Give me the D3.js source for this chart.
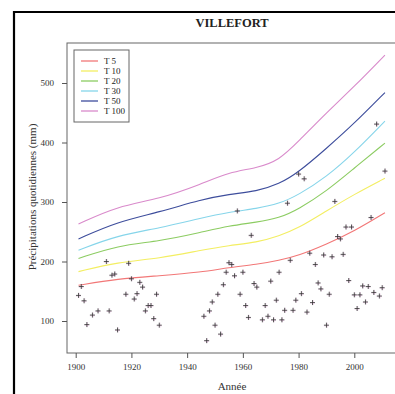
<!DOCTYPE html>
<html><head><meta charset="utf-8">
<script src="https://cdn.jsdelivr.net/npm/d3@7"></script>
<style>body{margin:0;background:#fff}svg{display:block}text{font-family:"Liberation Serif","Times New Roman",serif}</style>
</head><body><svg id="c" width="395" height="394"></svg>
<script>
const title = "VILLEFORT";
const xLabel = "Année";
const yLabel = "Précipitations quotidiennes (mm)";
const xTicks = [1900, 1920, 1940, 1960, 1980, 2000];
const yTicks = [100, 200, 300, 400, 500];
const curveYears = [1901, 1915, 1930, 1945, 1955, 1965, 1973, 1980, 1990, 2000, 2011];
const seriesNames = ["T 5", "T 10", "T 20", "T 30", "T 50", "T 100"];
const t5   = [160, 171, 176, 182, 190, 195, 202, 210, 229, 251, 282];
const t10  = [183, 199, 205, 219, 227, 232, 243, 256, 285, 313, 340];
const t20  = [205, 227, 234, 249, 260, 266, 273, 288, 318, 357, 399];
const t30  = [219, 244, 256, 273, 283, 289, 297, 312, 342, 383, 436];
const t50  = [238, 267, 283, 304, 313, 318, 330, 350, 390, 432, 484];
const t100 = [263, 293, 305, 330, 350, 357, 370, 402, 450, 494, 547];
const seriesColors = ["#f27777", "#f3ee62", "#8ccc62", "#86d5ea", "#3d4d9c", "#d98acb"];
const obsYears = [1901,1902,1903,1904,1906,1908,1911,1912,1913,1914,1915,1918,1919,1920,1921,1922,1923,1924,1925,1926,1927,1928,1929,1930,
  1946,1947,1948,1949,1950,1951,1952,1953,1954,1955,1956,1957,1958,1959,1960,1961,1962,1963,1964,1965,1967,1968,1969,1970,1971,1972,1973,1974,1975,1976,1977,1978,1979,1980,1981,1982,1983,1984,1985,1986,1987,1988,1989,1990,1991,1992,1993,1994,1995,1996,1997,1998,1999,2000,2001,2002,2003,2004,2005,2006,2007,2008,2009,2010,2011];
const obsValues = [143,158,134,94,110,117,200,117,177,179,85,145,197,171,137,146,165,157,117,126,126,104,145,93,
  108,67,117,132,93,145,78,161,182,198,195,176,285,145,182,126,106,244,163,157,102,126,108,167,102,135,182,102,118,298,202,118,135,347,146,339,115,214,131,195,164,154,211,93,145,208,301,242,238,212,258,168,258,144,121,144,159,132,158,274,148,431,142,156,352];

const series = [t5, t10, t20, t30, t50, t100];
const svg = d3.select("#c");
const x = d3.scaleLinear().domain([1900, 2000]).range([75.7, 354.3]);
const y = d3.scaleLinear().domain([100, 500]).range([321, 83]);
const box = {l: 67, t: 43, r: 402, b: 353};

svg.append("path").attr("d", `M14,394 V12 H395`).attr("fill", "none").attr("stroke", "#000").attr("stroke-width", 2.2);

svg.append("text").attr("x", 232).attr("y", 27).attr("text-anchor", "middle")
  .attr("font-size", 12.5).attr("font-weight", "bold").attr("fill", "#222").text(title);

svg.append("clipPath").attr("id", "cl").append("rect")
  .attr("x", box.l).attr("y", box.t).attr("width", box.r - box.l).attr("height", box.b - box.t);
const g = svg.append("g").attr("clip-path", "url(#cl)");

const line = d3.line().x((d, i) => x(curveYears[i])).y(d => y(d)).curve(d3.curveBasis);
series.forEach((s, k) => {
  g.append("path").attr("d", line(s)).attr("fill", "none").attr("stroke", seriesColors[k]).attr("stroke-width", 1.1);
});

obsYears.forEach((yr, i) => {
  const cx = x(yr), cy = y(obsValues[i]);
  g.append("path").attr("d", `M${cx - 2.5},${cy + 0.6}h5M${cx + 0.6},${cy - 2.5}v5`)
    .attr("stroke", "#d4a0cc").attr("stroke-width", 0.8).attr("opacity", 0.6);
  g.append("path").attr("d", `M${cx - 2.5},${cy}h5M${cx},${cy - 2.5}v5`)
    .attr("stroke", "#333").attr("stroke-width", 0.8);
});

svg.append("rect").attr("x", box.l).attr("y", box.t).attr("width", box.r - box.l).attr("height", box.b - box.t)
  .attr("fill", "none").attr("stroke", "#666").attr("stroke-width", 1);

const xa = svg.append("g").attr("transform", `translate(0,${box.b})`)
  .call(d3.axisBottom(x).tickValues(xTicks).tickFormat(d3.format("d")).tickSize(5).tickPadding(6));
const ya = svg.append("g").attr("transform", `translate(${box.l},0)`)
  .call(d3.axisLeft(y).tickValues(yTicks).tickSize(5).tickPadding(8));
[xa, ya].forEach(a => {
  a.select(".domain").remove();
  a.selectAll("line").attr("stroke", "#555");
  a.selectAll("text").attr("font-size", 9).attr("fill", "#333").attr("font-family", "Liberation Serif, serif");
});

svg.append("text").attr("x", 232).attr("y", 390).attr("text-anchor", "middle")
  .attr("font-size", 11).attr("fill", "#333").text(xLabel);
svg.append("text").attr("transform", "translate(36,197) rotate(-90)").attr("text-anchor", "middle")
  .attr("font-size", 11).attr("fill", "#333").text(yLabel);

const lg = svg.append("g");
lg.append("rect").attr("x", 74).attr("y", 50).attr("width", 55).attr("height", 72)
  .attr("fill", "#fff").attr("stroke", "#666").attr("stroke-width", 1);
seriesNames.forEach((n, k) => {
  const yy = 61 + k * 10;
  lg.append("line").attr("x1", 81).attr("x2", 98).attr("y1", yy).attr("y2", yy)
    .attr("stroke", seriesColors[k]).attr("stroke-width", 1.3);
  lg.append("text").attr("x", 104).attr("y", yy + 3).attr("font-size", 9).attr("fill", "#222").text(n);
});
</script></body></html>
